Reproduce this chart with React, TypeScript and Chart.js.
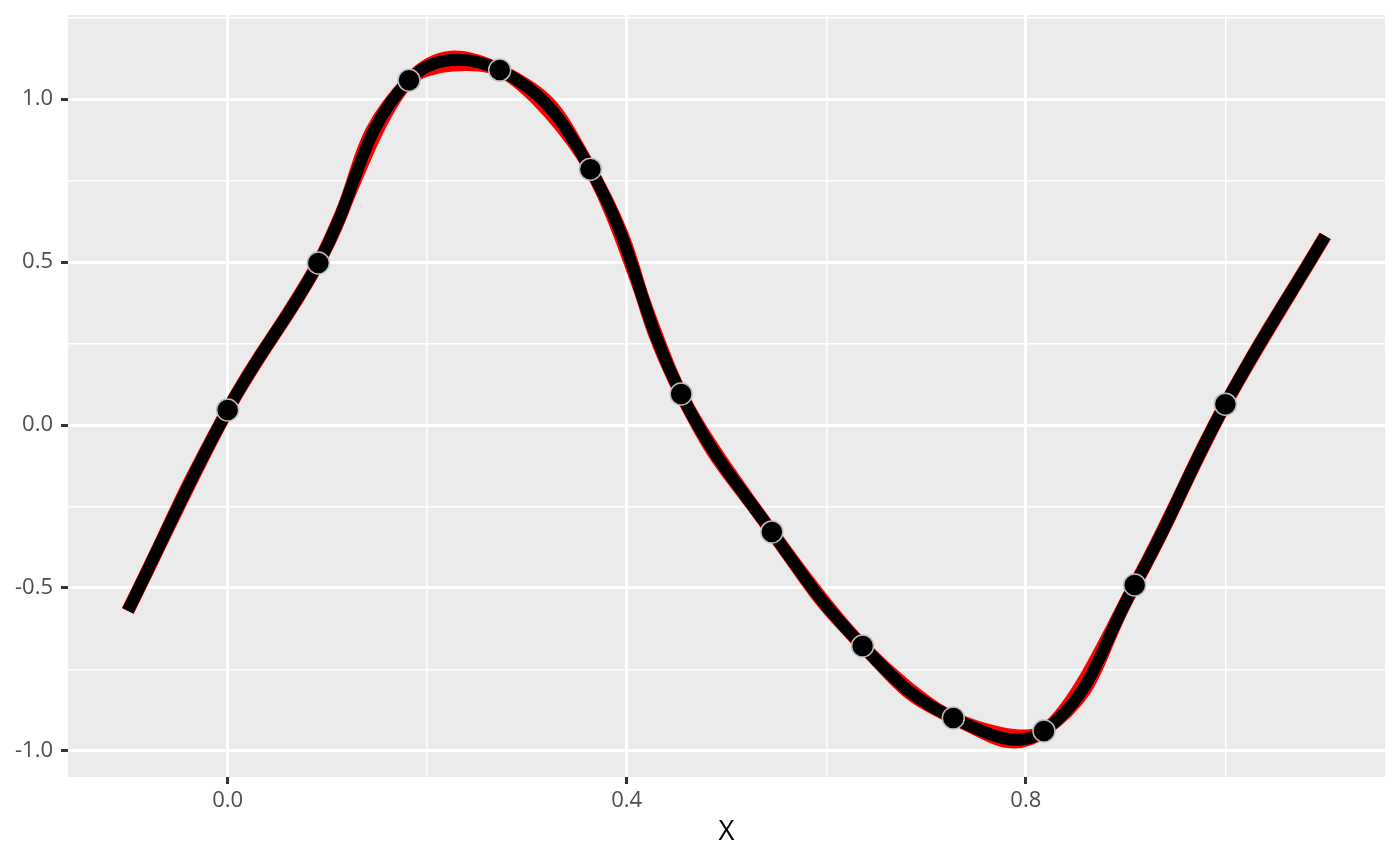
import React, { useEffect, useRef } from "react";
import { Chart, registerables } from "chart.js";

Chart.register(...registerables);

// Data
const pointX = [0, 0.0909, 0.1818, 0.2727, 0.3636, 0.4545, 0.5455, 0.6364, 0.7273, 0.8182, 0.9091, 1.0];
const pointY = [0.046, 0.497, 1.058, 1.089, 0.785, 0.095, -0.328, -0.678, -0.899, -0.939, -0.491, 0.064];
const curveStartX = -0.1;
const curveStartY = -0.57;
const curveEndX = 1.1;
const curveEndY = 0.58;
const xTicks = [0, 0.2, 0.4, 0.6, 0.8, 1.0];
const xMajor = [0, 0.4, 0.8];
const yTicks = [-1, -0.75, -0.5, -0.25, 0, 0.25, 0.5, 0.75, 1.0, 1.25];
const yMajor = [-1, -0.5, 0, 0.5, 1.0];
const xTitle = "X";

const isIn = (arr: number[], v: number) => arr.some((a) => Math.abs(a - v) < 1e-9);

export default function App() {
  const ref = useRef<HTMLCanvasElement | null>(null);

  useEffect(() => {
    document.body.style.margin = "0";
    const canvas = ref.current;
    if (!canvas) return;

    const curveX = [curveStartX, ...pointX, curveEndX];
    const curveY = [curveStartY, ...pointY, curveEndY];
    const curve = curveX.map((x, i) => ({ x, y: curveY[i] }));
    const pts = pointX.map((x, i) => ({ x, y: pointY[i] }));

    const bgPlugin = {
      id: "panelBg",
      beforeDraw(chart: any) {
        const { ctx, chartArea } = chart;
        ctx.save();
        ctx.fillStyle = "#FFFFFF";
        ctx.fillRect(0, 0, chart.width, chart.height);
        ctx.fillStyle = "#EBEBEB";
        ctx.fillRect(chartArea.left, chartArea.top, chartArea.right - chartArea.left, chartArea.bottom - chartArea.top);
        ctx.restore();
      },
    };

    const chart = new Chart(canvas, {
      type: "line",
      data: {
        datasets: [
          {
            type: "scatter",
            data: pts,
            pointRadius: 11,
            pointBackgroundColor: "#000000",
            pointBorderColor: "#BDBDBD",
            pointBorderWidth: 1.5,
            showLine: false,
            order: 0,
          } as any,
          {
            data: curve,
            borderColor: "#000000",
            borderWidth: 12,
            tension: 0.42,
            pointRadius: 0,
            borderCapStyle: "butt",
            order: 1,
          },
          {
            data: curve,
            borderColor: "#FF0000",
            borderWidth: 13,
            tension: 0.5,
            pointRadius: 0,
            borderCapStyle: "butt",
            order: 2,
          },
          {
            data: curve,
            borderColor: "#FF0000",
            borderWidth: 13,
            tension: 0.28,
            pointRadius: 0,
            borderCapStyle: "butt",
            order: 3,
          },
        ],
      },
      options: {
        animation: false,
        responsive: false,
        devicePixelRatio: 1,
        layout: { padding: { top: 15, right: 15, left: 0, bottom: 0 } },
        plugins: { legend: { display: false }, tooltip: { enabled: false } },
        font: { family: "'Open Sans', sans-serif" },
        scales: {
          x: {
            type: "linear",
            min: -0.16,
            max: 1.16,
            afterBuildTicks: (scale: any) => {
              scale.ticks = xTicks.map((v) => ({ value: v }));
            },
            afterFit: (scale: any) => {
              scale.height = 89;
              scale.paddingLeft = 0;
              scale.paddingRight = 0;
            },
            border: { display: false },
            grid: {
              color: "#FFFFFF",
              lineWidth: (c: any) => (isIn(xMajor, c.tick?.value) ? 3 : 1.5),
              tickColor: (c: any) => (isIn(xMajor, c.tick?.value) ? "#333333" : "rgba(0,0,0,0)"),
              tickWidth: 3,
              tickLength: 7,
            },
            ticks: {
              color: "#4D4D4D",
              font: { family: "'Open Sans', sans-serif", size: 22 },
              padding: 4,
              maxRotation: 0,
              autoSkip: false,
              callback: (v: any) => (isIn(xMajor, Number(v)) ? Number(v).toFixed(1) : ""),
            },
            title: {
              display: true,
              text: xTitle,
              color: "#000000",
              font: { family: "'Open Sans', sans-serif", size: 27.5 },
              padding: { top: 0, bottom: 17 },
            },
          },
          y: {
            type: "linear",
            min: -1.08,
            max: 1.258,
            afterBuildTicks: (scale: any) => {
              scale.ticks = yTicks.map((v) => ({ value: v }));
            },
            afterFit: (scale: any) => {
              scale.width = 68;
              scale.paddingTop = 0;
              scale.paddingBottom = 0;
            },
            border: { display: false },
            grid: {
              color: "#FFFFFF",
              lineWidth: (c: any) => (isIn(yMajor, c.tick?.value) ? 3 : 1.5),
              tickColor: (c: any) => (isIn(yMajor, c.tick?.value) ? "#333333" : "rgba(0,0,0,0)"),
              tickWidth: 3,
              tickLength: 7,
            },
            ticks: {
              color: "#4D4D4D",
              font: { family: "'Open Sans', sans-serif", size: 22 },
              padding: 8,
              autoSkip: false,
              callback: (v: any) => (isIn(yMajor, Number(v)) ? Number(v).toFixed(1) : ""),
            },
          },
        },
      } as any,
      plugins: [bgPlugin],
    });

    return () => chart.destroy();
  }, []);

  return <canvas ref={ref} width={1400} height={866} style={{ display: "block" }} />;
}
